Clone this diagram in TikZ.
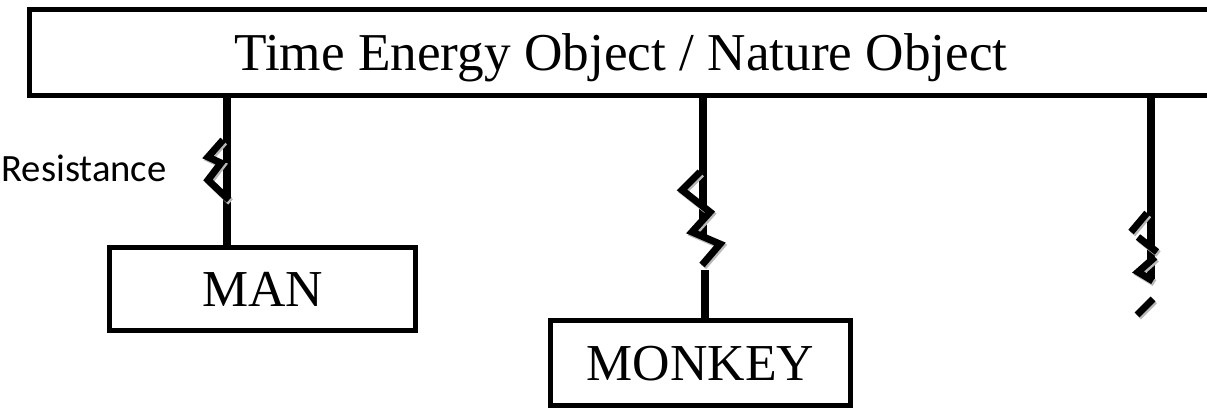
\documentclass[tikz,border=0pt]{standalone}
\usepackage{fontspec}
\setmainfont{Liberation Serif}
\newfontfamily\labelfont{Carlito}
% a resistance stroke with its grey shadow
\newcommand{\zigpath}[1]{\draw[zigshadow] #1; \draw[zig] #1;}
\begin{document}
\begin{tikzpicture}[x=0.02cm,y=-0.02cm,
    zig/.style={line width=0.14cm},
    zigshadow/.style={line width=0.14cm,draw=gray!55,shift={(1.5,2)}},
    wire/.style={line width=0.15cm}]
\useasboundingbox (0,0) rectangle (1207,408);

\begin{scope}[every node/.style={draw,line width=0.1cm,inner sep=0pt,text depth=0pt}]
    \node[minimum width=23.66cm,minimum height=1.72cm,font=\fontsize{30.3}{32}\selectfont] (nature) at (621,52.5) {Time Energy Object / Nature Object};

    \node[minimum width=6.12cm,minimum height=1.66cm,font=\fontsize{29.5}{32}\selectfont] (man) at (262.5,289) {MAN};
    \node[minimum width=6cm,minimum height=1.7cm,font=\fontsize{29.5}{32}\selectfont] (monkey) at (700.5,363) {MONKEY};
\end{scope}

\node[font=\labelfont\fontsize{22}{24}\selectfont,inner sep=0pt] (res) at (84,168) {Resistance};

\coordinate (c1) at (227,0);
\coordinate (c2) at (703,237);
\coordinate (c2b) at (705,270);
\coordinate (c3) at (1151,282);

\begin{scope}[wire]
    \draw (nature.south -| c1) -- (man.north -| c1);

    \draw (nature.south -| c2) -- (c2);
    \draw (c2b) -- (monkey.north -| c2b);

    \draw (nature.south -| c3) -- (c3);
\end{scope}

% resistance zigzags
\zigpath{(223,140) -- (208,157) -- (221,163) -- (208,180) -- (229,200)}

\zigpath{(700,172) -- (682,190) -- (710,212) -- (692,232) -- (720,244) -- (702,265)}

\zigpath{(1147,213) -- (1131,232)}
\zigpath{(1138,237) -- (1157,252)}
\zigpath{(1155,257) -- (1138,272) -- (1153,281)}
\zigpath{(1153,299) -- (1137,315)}

\end{tikzpicture}
\end{document}
